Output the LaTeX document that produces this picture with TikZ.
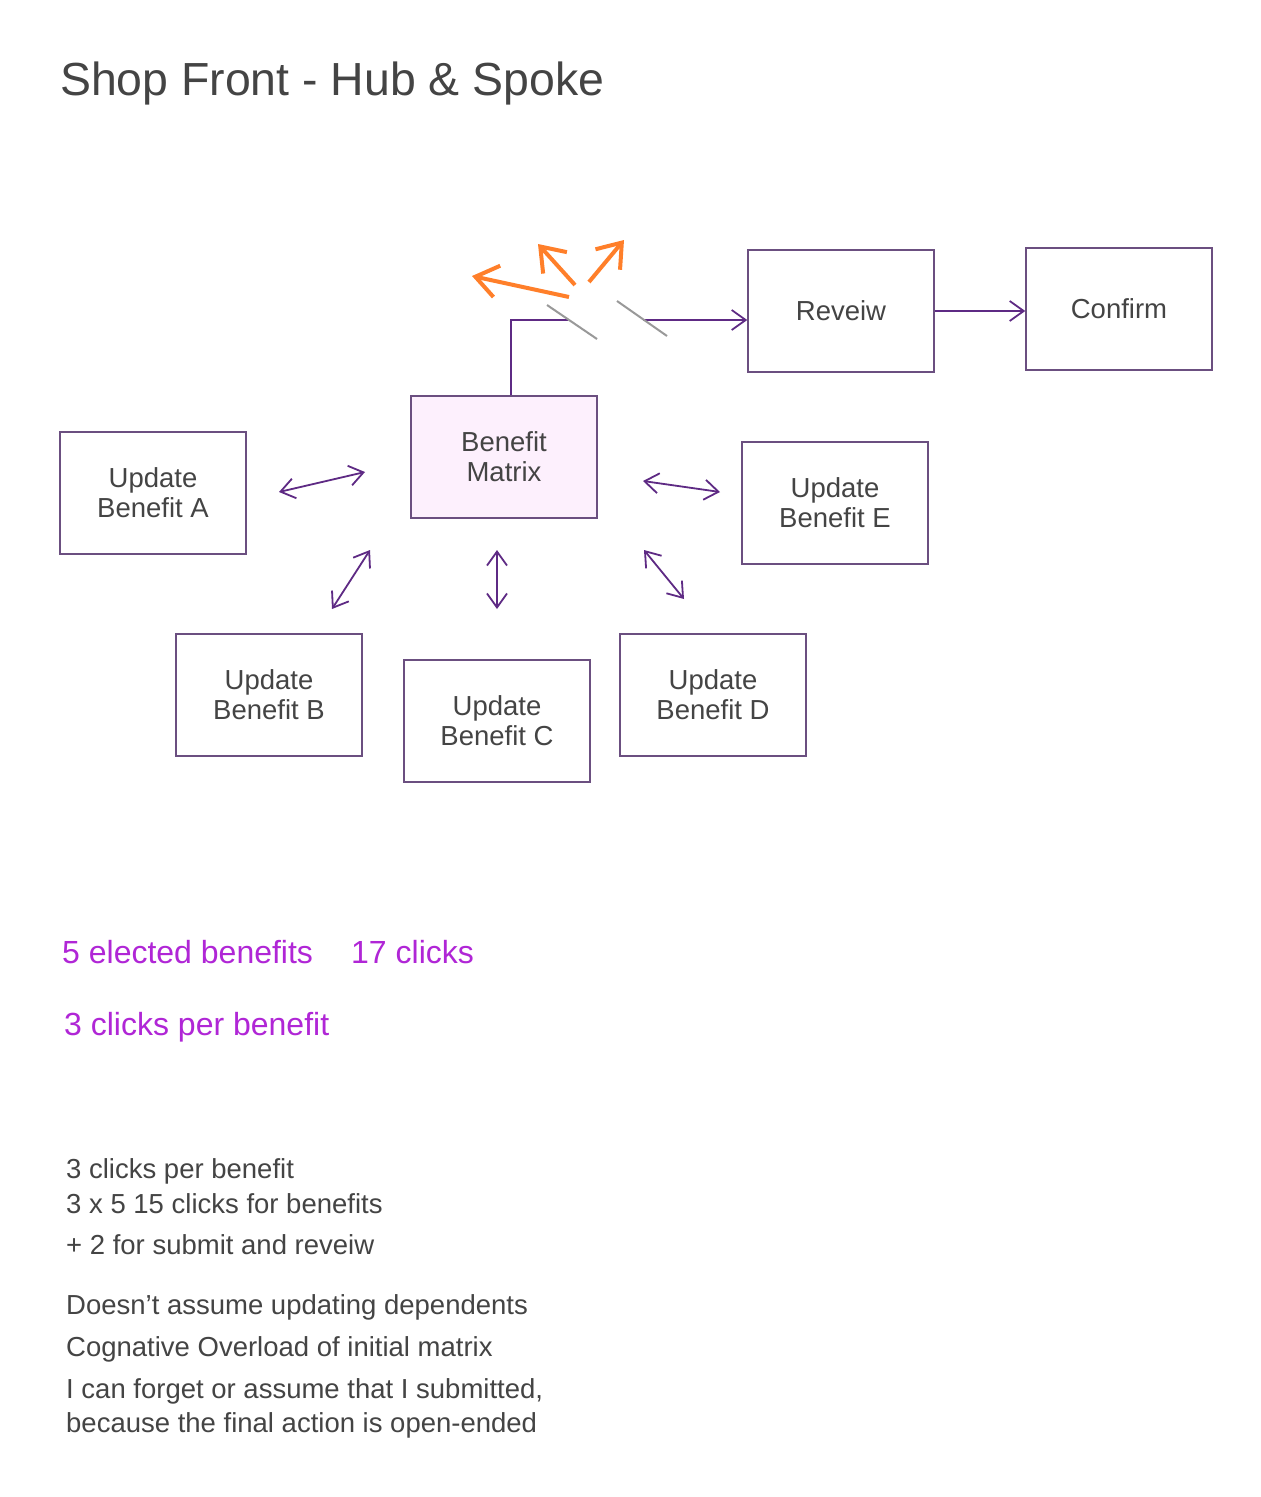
\documentclass[tikz,border=0pt]{standalone}
\usepackage{fontspec}
\setmainfont{Liberation Sans}
\usetikzlibrary{arrows.meta}
\definecolor{boxline}{HTML}{6B4F80}
\definecolor{boxfill}{HTML}{FDF0FD}
\definecolor{conn}{HTML}{5E2A84}
\definecolor{txt}{HTML}{444444}
\definecolor{accent}{HTML}{B026D6}
\definecolor{orangearr}{HTML}{FF7F2A}
\definecolor{slash}{HTML}{999999}
\tikzset{
  box/.style={draw=boxline, line width=1.5pt, fill=white, minimum width=186pt, minimum height=122pt,
    inner sep=0pt, align=center, text=txt, font=\fontsize{27.5}{30}\selectfont},
  hub/.style={box, fill=boxfill},
  dbl/.style={conn, line width=1.8pt, {Straight Barb[length=14pt,width=20pt]}-{Straight Barb[length=14pt,width=20pt]}},
  single/.style={conn, line width=1.8pt, -{Straight Barb[length=14pt,width=20pt]}},
  burst/.style={orangearr, line width=4pt, -{Straight Barb[length=22pt,width=32pt]}},
  cut/.style={slash, line width=2pt},
  note/.style={anchor=base west, inner sep=0pt, text=txt, font=\fontsize{27.5}{30}\selectfont},
  stat/.style={anchor=base west, inner sep=0pt, text=accent, font=\fontsize{32}{36}\selectfont},
}
\begin{document}
\begin{tikzpicture}[x=1pt,y=-1pt]
\useasboundingbox[fill=white] (0,0) rectangle (1261,1497);

\node[anchor=base west, inner sep=0pt, text=txt, font=\fontsize{46.4}{56}\selectfont] (title) at (60,95) {Shop Front - Hub \& Spoke};

% boxes
\node[hub] (bm) at (504,457) {Benefit\\Matrix};
\node[box] (rev) at (841,311) {Reveiw};
\node[box] (conf) at (1119,309) {Confirm};
\node[box] (ua) at (153,493) {Update\\Benefit A};
\node[box] (ue) at (835,503) {Update\\Benefit E};
\node[box] (ub) at (269,695) {Update\\Benefit B};
\node[box] (uc) at (497,721) {Update\\Benefit C};
\node[box] (ud) at (713,695) {Update\\Benefit D};

% spoke arrows (free-standing)
\coordinate (a1) at (279,492); \coordinate (a2) at (365,472);
\coordinate (e1) at (643,481); \coordinate (e2) at (720,492);
\coordinate (b1) at (332,609); \coordinate (b2) at (370,550);
\coordinate (c1) at (497,550); \coordinate (c2) at (497,609);
\coordinate (d1) at (644,550); \coordinate (d2) at (684,599);
\draw[dbl] (a1) -- (a2);
\draw[dbl] (e1) -- (e2);
\draw[dbl] (b1) -- (b2);
\draw[dbl] (c1) -- (c2);
\draw[dbl] (d1) -- (d2);

% path to review, broken
\coordinate (k1) at (568,320);
\coordinate (k2) at (643,320);
\draw[conn, line width=1.8pt] ([xshift=7pt]bm.north) |- (k1);
\draw[single] (k2) -- (k2 -| rev.west);
\draw[single] (rev.east) -- (conf.west |- rev.east);

% gray break slashes
\coordinate (s1a) at (547,305); \coordinate (s1b) at (597,339);
\coordinate (s2a) at (617,301); \coordinate (s2b) at (667,336);
\draw[cut] (s1a) -- (s1b);
\draw[cut] (s2a) -- (s2b);

% orange burst arrows
\coordinate (o1s) at (569,297); \coordinate (o1e) at (472,276);
\coordinate (o2s) at (575,285); \coordinate (o2e) at (538,244);
\coordinate (o3s) at (589,282); \coordinate (o3e) at (624,240);
\draw[burst] (o1s) -- (o1e);
\draw[burst] (o2s) -- (o2e);
\draw[burst] (o3s) -- (o3e);

% stats
\node[stat] (s1) at (62,963) {5 elected benefits};
\node[stat] (s2) at (351,963) {17 clicks};
\node[stat] (s3) at (64,1035) {3 clicks per benefit};

% notes
\node[note] (n1) at (66,1178) {3 clicks per benefit};
\node[note] (n2) at (66,1213) {3 x 5 15 clicks for benefits};
\node[note] (n3) at (66,1254) {+ 2 for submit and reveiw};
\node[note] (n4) at (66,1314) {Doesn’t assume updating dependents};
\node[note] (n5) at (66,1356) {Cognative Overload of initial matrix};
\node[note] (n6) at (66,1398) {I can forget or assume that I submitted,};
\node[note] (n7) at (66,1432) {because the final action is open-ended};
\end{tikzpicture}
\end{document}
